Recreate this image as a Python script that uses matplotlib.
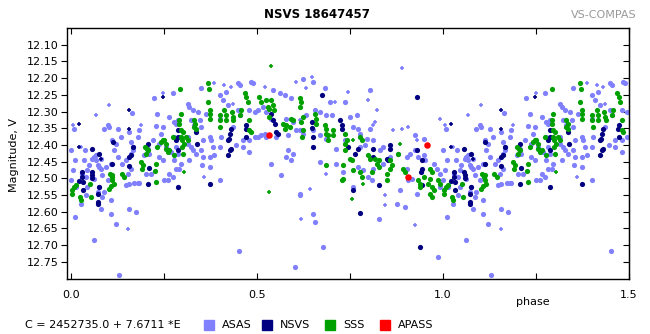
import numpy as np
import matplotlib
matplotlib.use("Agg")
import matplotlib.pyplot as plt
from matplotlib.patches import Rectangle

# phase / magnitude (phase 0..1, the 1..1.5 part is a copy)
asas_phase = [0.009, 0.000, 0.012, 0.006, 0.000, 0.013, 0.012, 0.039, 0.036, 0.045, 0.031, 0.040, 0.049, 0.045,
              0.027, 0.040, 0.058, 0.063, 0.067, 0.072, 0.076, 0.081, 0.067, 0.063, 0.076, 0.072, 0.085, 0.081,
              0.063, 0.081, 0.090, 0.099, 0.103, 0.112, 0.121, 0.117, 0.126, 0.108, 0.094, 0.085, 0.099, 0.090,
              0.108, 0.108, 0.121, 0.130, 0.126, 0.135, 0.139, 0.148, 0.148, 0.157, 0.153, 0.162, 0.157, 0.162,
              0.166, 0.162, 0.166, 0.157, 0.164, 0.171, 0.180, 0.184, 0.175, 0.184, 0.180, 0.207, 0.211, 0.220,
              0.224, 0.229, 0.216, 0.202, 0.198, 0.233, 0.238, 0.242, 0.247, 0.256, 0.265, 0.251, 0.260, 0.238,
              0.247, 0.265, 0.274, 0.278, 0.283, 0.287, 0.278, 0.283, 0.287, 0.278, 0.269, 0.283, 0.274, 0.292,
              0.296, 0.314, 0.319, 0.328, 0.323, 0.332, 0.314, 0.323, 0.328, 0.337, 0.319, 0.314, 0.341,
              0.350, 0.364, 0.346, 0.350, 0.355, 0.350, 0.355, 0.353, 0.373, 0.377, 0.382, 0.386, 0.373, 0.418,
              0.449, 0.454, 0.485, 0.489, 0.543, 0.561, 0.575, 0.593, 0.624, 0.651, 0.683, 0.696, 0.400, 0.409,
              0.422, 0.449, 0.454, 0.480, 0.494, 0.503, 0.516, 0.525, 0.539, 0.579, 0.597, 0.633, 0.656, 0.669,
              0.687, 0.701, 0.400, 0.436, 0.404, 0.463, 0.480, 0.503, 0.521, 0.494, 0.512, 0.525, 0.552, 0.584,
              0.606, 0.615, 0.624, 0.651, 0.669, 0.687, 0.714, 0.445, 0.463, 0.480, 0.373, 0.400, 0.400, 0.566,
              0.539, 0.584, 0.579, 0.597, 0.615, 0.615, 0.651, 0.656, 0.678, 0.452, 0.602, 0.593, 0.669, 0.714,
              0.737, 0.804, 0.750, 0.768, 0.759, 0.773, 0.777, 0.804, 0.925, 0.948, 0.795, 0.791, 0.813, 0.831,
              0.840, 0.777, 0.737, 0.840, 0.858, 0.880, 0.903, 0.912, 0.925, 0.934, 0.948, 0.903, 0.907, 0.916,
              0.885, 0.930, 0.952, 0.975, 0.984, 0.993, 0.800, 0.809, 0.786, 0.773, 0.732, 0.988, 0.759, 0.876,
              0.813, 0.898, 0.827, 0.993]
asas_mag = [12.353, 12.416, 12.444, 12.474, 12.506, 12.526, 12.616, 12.416, 12.446, 12.476, 12.486, 12.496, 12.461, 12.526,
            12.576, 12.551, 12.441, 12.436, 12.446, 12.461, 12.466, 12.471, 12.431, 12.501, 12.526, 12.541, 12.556, 12.591,
            12.686, 12.441, 12.351, 12.341, 12.346, 12.386, 12.396, 12.416, 12.436, 12.456, 12.466, 12.491, 12.506, 12.541,
            12.566, 12.606, 12.636, 12.789, 12.351, 12.376, 12.456, 12.446, 12.521, 12.516, 12.486, 12.471, 12.591, 12.426,
            12.416, 12.391, 12.406, 12.361, 12.304, 12.514, 12.514, 12.514, 12.601, 12.356, 12.376, 12.411, 12.426, 12.386,
            12.261, 12.344, 12.486, 12.486, 12.431, 12.306, 12.396, 12.366, 12.346, 12.406, 12.486, 12.506, 12.506, 12.436,
            12.446, 12.316, 12.246, 12.331, 12.336, 12.326, 12.376, 12.406, 12.426, 12.446, 12.421, 12.471, 12.496, 12.471,
            12.456, 12.276, 12.286, 12.296, 12.326, 12.341, 12.396, 12.406, 12.416, 12.426, 12.446, 12.376, 12.301,
            12.231, 12.306, 12.326, 12.346, 12.386, 12.416, 12.436, 12.461, 12.376, 12.386, 12.406, 12.431, 12.436, 12.241,
            12.216, 12.221, 12.211, 12.216, 12.236, 12.246, 12.251, 12.261, 12.204, 12.211, 12.231, 12.271, 12.251, 12.266,
            12.281, 12.296, 12.311, 12.296, 12.301, 12.296, 12.286, 12.301, 12.321, 12.321, 12.331, 12.311, 12.296, 12.301,
            12.311, 12.311, 12.321, 12.346, 12.376, 12.386, 12.386, 12.376, 12.366, 12.376, 12.371, 12.376, 12.376, 12.371,
            12.356, 12.356, 12.366, 12.356, 12.371, 12.381, 12.411, 12.401, 12.406, 12.421, 12.466, 12.406, 12.506, 12.491,
            12.456, 12.416, 12.436, 12.426, 12.546, 12.551, 12.606, 12.631, 12.706, 12.718, 12.764, 12.444, 12.451, 12.456,
            12.271, 12.236, 12.316, 12.311, 12.346, 12.351, 12.366, 12.351, 12.371, 12.381, 12.381, 12.401, 12.386, 12.416,
            12.406, 12.406, 12.386, 12.456, 12.436, 12.426, 12.436, 12.426, 12.416, 12.436, 12.431, 12.471, 12.506, 12.501,
            12.536, 12.546, 12.446, 12.456, 12.471, 12.486, 12.496, 12.506, 12.476, 12.466, 12.481, 12.736, 12.526, 12.576,
            12.471, 12.586, 12.621, 12.526]

# fainter ASAS points drawn as small crosses
asas_x_phase = [0.006, 0.027, 0.067, 0.103, 0.155, 0.189, 0.249, 0.359, 0.386, 0.413, 0.431, 0.436, 0.521, 0.606,
                0.633, 0.647, 0.709, 0.615, 0.620, 0.642, 0.687, 0.746, 0.800, 0.889, 0.813, 0.818, 0.822, 0.867,
                0.889, 0.907, 0.930, 0.993, 0.925, 0.844, 0.844]
asas_x_mag = [12.341, 12.406, 12.311, 12.281, 12.651, 12.341, 12.246, 12.496, 12.216, 12.221, 12.226, 12.276, 12.226, 12.211,
              12.231, 12.198, 12.271, 12.326, 12.621, 12.531, 12.486, 12.241, 12.266, 12.171, 12.341, 12.331, 12.296, 12.356,
              12.351, 12.346, 12.386, 12.321, 12.641, 12.551, 12.581]

nsvs_phase = [0.021, 0.031, 0.031, 0.033, 0.033, 0.057, 0.057, 0.058, 0.058, 0.076, 0.074, 0.072, 0.074, 0.076,
              0.112, 0.114, 0.157, 0.157, 0.166, 0.162, 0.207, 0.209, 0.207, 0.287, 0.287, 0.283, 0.287, 0.287,
              0.337, 0.339, 0.373, 0.431, 0.427, 0.425, 0.422, 0.431, 0.427, 0.422, 0.472, 0.470, 0.472, 0.539,
              0.543, 0.548, 0.552, 0.557, 0.647, 0.649, 0.651, 0.651, 0.676, 0.723, 0.728, 0.728, 0.746, 0.773,
              0.764, 0.813, 0.813, 0.849, 0.853, 0.858, 0.858, 0.930, 0.930, 0.943, 0.943, 0.941, 0.943, 0.777,
              0.759, 0.827, 0.939]
nsvs_mag = [12.508, 12.481, 12.496, 12.511, 12.536, 12.411, 12.481, 12.491, 12.498, 12.526, 12.548, 12.571, 12.578, 12.426,
            12.456, 12.391, 12.436, 12.464, 12.406, 12.431, 12.396, 12.469, 12.516, 12.356, 12.376, 12.386, 12.416, 12.526,
            12.361, 12.396, 12.516, 12.351, 12.366, 12.381, 12.386, 12.411, 12.416, 12.431, 12.341, 12.351, 12.376, 12.306,
            12.326, 12.336, 12.361, 12.366, 12.331, 12.348, 12.376, 12.406, 12.251, 12.326, 12.341, 12.351, 12.406, 12.411,
            12.426, 12.411, 12.436, 12.441, 12.446, 12.401, 12.411, 12.258, 12.416, 12.446, 12.471, 12.481, 12.521, 12.603,
            12.536, 12.519, 12.706]
nsvs_x_phase = [0.022, 0.022, 0.081, 0.157, 0.157, 0.247]
nsvs_x_mag = [12.336, 12.406, 12.443, 12.296, 12.351, 12.256]

sss_phase = [0.003, 0.009, 0.013, 0.004, 0.024, 0.027, 0.051, 0.054, 0.105, 0.110, 0.112, 0.117, 0.108, 0.112,
             0.103, 0.137, 0.144, 0.189, 0.193, 0.191, 0.200, 0.204, 0.207, 0.202, 0.229, 0.227, 0.229, 0.233,
             0.242, 0.247, 0.251, 0.256, 0.256, 0.260, 0.265, 0.274, 0.278, 0.294, 0.296, 0.292, 0.292, 0.296,
             0.301, 0.296, 0.299, 0.303, 0.299, 0.301, 0.310, 0.314, 0.332, 0.335, 0.332, 0.337,
             0.368, 0.371, 0.368, 0.373, 0.373, 0.373, 0.400, 0.400, 0.402, 0.413, 0.418, 0.416, 0.434, 0.436,
             0.437, 0.458, 0.455, 0.467, 0.472, 0.476, 0.480, 0.480, 0.485, 0.507, 0.512, 0.525, 0.530, 0.534,
             0.539, 0.543, 0.545, 0.534, 0.570, 0.579, 0.575, 0.588, 0.593, 0.597, 0.615, 0.620, 0.615, 0.624,
             0.620, 0.624, 0.622, 0.656, 0.660, 0.660, 0.683, 0.685, 0.687, 0.692, 0.692, 0.705, 0.705, 0.687,
             0.737, 0.741, 0.737, 0.737, 0.777, 0.782, 0.750, 0.755, 0.732, 0.732, 0.728, 0.759, 0.777, 0.782,
             0.800, 0.804, 0.818, 0.827, 0.822, 0.827, 0.809, 0.858, 0.862, 0.858, 0.849, 0.849, 0.880, 0.894,
             0.898, 0.934, 0.939, 0.939, 0.948, 0.966, 0.970, 0.966, 0.961, 0.970, 0.975, 0.966, 0.970, 0.988,
             0.993]
sss_mag = [12.536, 12.526, 12.521, 12.546, 12.556, 12.566, 12.518, 12.556, 12.486, 12.496, 12.506, 12.516, 12.524, 12.491,
           12.531, 12.486, 12.496, 12.451, 12.461, 12.471, 12.406, 12.411, 12.416, 12.426, 12.458, 12.478, 12.510, 12.406,
           12.391, 12.386, 12.386, 12.396, 12.411, 12.421, 12.416, 12.376, 12.431, 12.234, 12.306, 12.326, 12.336, 12.356,
           12.361, 12.376, 12.386, 12.398, 12.406, 12.426, 12.376, 12.386, 12.326, 12.336, 12.346, 12.351,
           12.214, 12.234, 12.271, 12.296, 12.306, 12.321, 12.311, 12.326, 12.346, 12.296, 12.311, 12.326, 12.301, 12.316,
           12.326, 12.296, 12.311, 12.246, 12.256, 12.271, 12.326, 12.356, 12.361, 12.256, 12.271, 12.266, 12.286, 12.291,
           12.266, 12.281, 12.296, 12.316, 12.336, 12.341, 12.351, 12.346, 12.321, 12.326, 12.261, 12.271, 12.286, 12.316,
           12.331, 12.356, 12.376, 12.306, 12.321, 12.336, 12.341, 12.351, 12.366, 12.371, 12.386, 12.356, 12.371, 12.461,
           12.366, 12.386, 12.396, 12.416, 12.376, 12.386, 12.441, 12.446, 12.461, 12.501, 12.506, 12.476, 12.481, 12.496,
           12.431, 12.441, 12.441, 12.446, 12.456, 12.466, 12.481, 12.446, 12.461, 12.471, 12.486, 12.506, 12.426, 12.471,
           12.481, 12.506, 12.516, 12.526, 12.496, 12.471, 12.481, 12.501, 12.516, 12.526, 12.536, 12.546, 12.556, 12.506,
           12.516]
sss_x_phase = [0.305, 0.539, 0.534, 0.759, 0.786, 0.755, 0.885]
sss_x_mag = [12.481, 12.165, 12.541, 12.386, 12.516, 12.561, 12.396]

apass_phase = [0.534, 0.957, 0.907]
apass_mag = [12.370, 12.399, 12.497]

legend_names = ["ASAS", "NSVS", "SSS", "APASS"]
legend_colors = ["#8080ff", "#000080", "#00a000", "#ff0000"]


def fold(phase, mag):
    # repeat the first half of the cycle after phase 1
    phase = np.array(phase)
    mag = np.array(mag)
    first = phase < 0.5
    return np.concatenate([phase, phase[first] + 1]), np.concatenate([mag, mag[first]])


plt.rcParams["font.family"] = "DejaVu Sans"
plt.rcParams["font.size"] = 8

fig = plt.figure(figsize=(6.5, 3.34), dpi=100)
ax = fig.add_axes([0.1031, 0.1659, 0.8646, 0.7503])

dot = 14
cross = 11
x, y = fold(asas_phase, asas_mag)
ax.scatter(x, y, s=dot, color=legend_colors[0], linewidths=0, zorder=2)
x, y = fold(asas_x_phase, asas_x_mag)
ax.scatter(x, y, s=cross, marker="+", color=legend_colors[0], linewidths=1.2, zorder=2)
x, y = fold(nsvs_phase, nsvs_mag)
ax.scatter(x, y, s=dot, color=legend_colors[1], linewidths=0, zorder=3)
x, y = fold(nsvs_x_phase, nsvs_x_mag)
ax.scatter(x, y, s=cross, marker="+", color=legend_colors[1], linewidths=1.2, zorder=3)
x, y = fold(sss_phase, sss_mag)
ax.scatter(x, y, s=dot, color=legend_colors[2], linewidths=0, zorder=4)
x, y = fold(sss_x_phase, sss_x_mag)
ax.scatter(x, y, s=cross, marker="+", color=legend_colors[2], linewidths=1.2, zorder=4)
x, y = fold(apass_phase, apass_mag)
ax.scatter(x, y, s=22, color=legend_colors[3], linewidths=0, zorder=5)

ax.set_xlim(-0.01, 1.5)
ax.set_ylim(12.80, 12.05)
ax.set_xticks([0.0, 0.5, 1.0, 1.5])
ax.set_xticklabels(["0.0", "0.5", "1.0", "1.5"])
ax.set_xticks([0.25, 0.75, 1.25], minor=True)
ax.tick_params(axis="x", which="both", direction="in", top=True, length=4, pad=8, width=0.8)
ax.set_yticks(np.arange(12.10, 12.76, 0.05))
ax.set_yticklabels(["%.2f" % v for v in np.arange(12.10, 12.76, 0.05)])
ax.tick_params(axis="y", direction="out", length=4, width=0.8, pad=2)
right = ax.secondary_yaxis("right")
right.set_yticks(np.arange(12.10, 12.76, 0.05))
right.tick_params(direction="in", length=4, width=0.8, labelright=False)
for s in ax.spines.values():
    s.set_linewidth(1)

fig.text(317 / 650, 1 - 15 / 334, "NSVS 18647457", ha="center", va="center", fontweight="bold", fontsize=8.5)
fig.text(637 / 650, 1 - 15 / 334, "VS-COMPAS", ha="right", va="center", color="#999999", fontsize=8)
fig.text(14 / 650, 1 - 155 / 334, "Magnitude, V", rotation=90, ha="center", va="center")
fig.text(533 / 650, 1 - 302 / 334, "phase", ha="center", va="center")

# legend row at the bottom
fig.text(25 / 650, 1 - 325 / 334, "C = 2452735.0 + 7.6711 *E", ha="left", va="center")
box_x = [204, 262, 325, 380]
for name, col, bx in zip(legend_names, legend_colors, box_x):
    fig.patches.append(Rectangle((bx / 650, (334 - 330) / 334), 10 / 650, 10 / 334,
                                 transform=fig.transFigure, color=col))
    fig.text((bx + 18) / 650, 1 - 325 / 334, name, ha="left", va="center")

fig.savefig("out.png", dpi=100)
